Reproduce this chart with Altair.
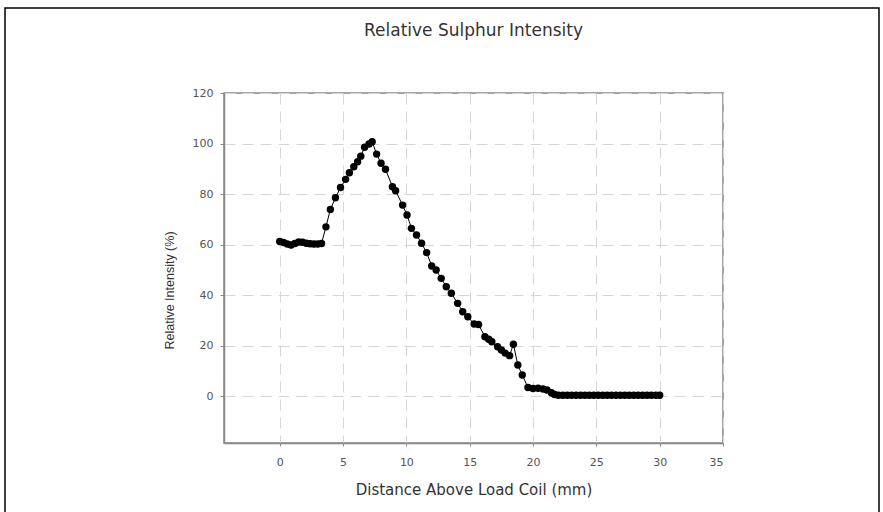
import altair as alt
import pandas as pd

distance = [0.0, 0.3, 0.6, 0.9, 1.2, 1.5, 1.8, 2.1, 2.4, 2.7, 3.0, 3.3,
            3.65, 4.0, 4.4, 4.8, 5.2, 5.5, 5.85, 6.15, 6.4, 6.7, 7.05, 7.3,
            7.65, 8.0, 8.35, 8.9, 9.15, 9.7, 10.05, 10.4, 10.8, 11.2, 11.6,
            12.0, 12.35, 12.75, 13.15, 13.55, 14.05, 14.45, 14.85, 15.35, 15.7,
            16.2, 16.5, 16.75, 17.2, 17.5, 17.8, 18.15, 18.45, 18.8, 19.15,
            19.6, 20.0, 20.4, 20.8, 21.1, 21.45, 21.7, 22.0, 22.35, 22.7,
            23.05, 23.4, 23.75, 24.1, 24.45, 24.8, 25.15, 25.5, 25.85, 26.2,
            26.55, 26.9, 27.25, 27.6, 27.95, 28.3, 28.65, 29.0, 29.35, 29.7, 30.0]
intensity = [61.2, 60.8, 60.2, 59.8, 60.4, 61.0, 60.9, 60.5, 60.3, 60.2, 60.2, 60.4,
             67.0, 73.9, 78.5, 82.6, 85.8, 88.4, 90.8, 92.8, 95.0, 98.5, 99.8, 100.7,
             95.8, 92.2, 89.8, 82.9, 81.3, 75.6, 71.7, 66.4, 63.8, 60.5, 56.8,
             51.5, 49.9, 46.6, 43.3, 40.7, 36.7, 33.4, 31.4, 28.5, 28.3,
             23.5, 22.5, 21.5, 19.5, 18.2, 17.0, 16.0, 20.5, 12.3, 8.3,
             3.4, 3.0, 3.1, 2.8, 2.4, 1.3, 0.6, 0.3, 0.3, 0.3,
             0.3, 0.3, 0.3, 0.3, 0.3, 0.3, 0.3, 0.3, 0.3, 0.3,
             0.3, 0.3, 0.3, 0.3, 0.3, 0.3, 0.3, 0.3, 0.3, 0.3, 0.3]

x_ticks = [0, 5, 10, 15, 20, 25, 30, 35]
y_ticks = [0, 20, 40, 60, 80, 100, 120]

df = pd.DataFrame({"d": distance, "i": intensity})

FONT = "DejaVu Sans"
W, H = 499, 350

x_enc = alt.X("d:Q", scale=alt.Scale(domain=[-4.4, 35], nice=False, zero=False),
              axis=alt.Axis(values=x_ticks, title="Distance Above Load Coil (mm)",
                            grid=True, gridDash=[11, 7], gridColor="#d6d6d6", gridWidth=1,
                            domainColor="#888888", domainWidth=1.5,
                            tickColor="#888888", tickSize=3, labelPadding=10,
                            labelFontSize=11, labelColor="#555555", labelFont=FONT,
                            titleFont=FONT, titleFontSize=15, titleFontWeight="normal",
                            titleColor="#333333", titlePadding=15))
y_enc = alt.Y("i:Q", scale=alt.Scale(domain=[-18.6, 120], nice=False, zero=False),
              axis=alt.Axis(values=y_ticks, title="Relative Intensity (%)",
                            grid=True, gridDash=[11, 7], gridColor="#d6d6d6", gridWidth=1,
                            domainColor="#888888", domainWidth=1.5,
                            tickColor="#888888", tickSize=4, labelPadding=7,
                            labelFontSize=11, labelColor="#555555", labelFont=FONT,
                            titleFont="Liberation Sans", titleFontSize=12.5,
                            titleFontWeight="normal", titleY=197,
                            titleColor="#333333", titlePadding=16))

base = alt.Chart(df)
line = base.mark_line(color="black", strokeWidth=1).encode(x=x_enc, y=y_enc)
pts = base.mark_circle(color="black", opacity=1, size=55).encode(x="d:Q", y="i:Q")

frame = alt.Chart(pd.DataFrame({"a": [0]})).mark_rect(
    fill=None, stroke="black", strokeWidth=1.5, clip=False
).encode(x=alt.value(-219), x2=alt.value(655), y=alt.value(-85), y2=alt.value(430))

chart = alt.layer(line, pts, frame).properties(
    width=W, height=H,
    title=alt.TitleParams("Relative Sulphur Intensity", font=FONT, fontSize=17,
                          fontWeight="normal", color="#333333", offset=-33),
    autosize=alt.AutoSizeParams(type="none"),
    padding={"left": 224, "top": 93, "right": 160, "bottom": 69},
).configure_view(stroke="#888888", strokeWidth=1.5)

chart.save("out.html", embed_options={"renderer": "svg", "actions": False})
